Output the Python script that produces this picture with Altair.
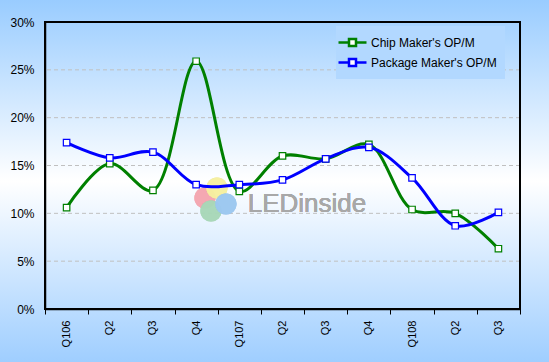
import altair as alt
import pandas as pd

quarters = ["Q106", "Q2", "Q3", "Q4", "Q107", "Q2", "Q3", "Q4", "Q108", "Q2", "Q3"]
chip = [10.6, 15.2, 12.4, 25.9, 12.3, 16.0, 15.7, 17.2, 10.4, 10.0, 6.3]
package = [17.4, 15.8, 16.4, 13.0, 13.0, 13.5, 15.7, 16.9, 13.7, 8.7, 10.1]
series_names = ["Chip Maker's OP/M", "Package Maker's OP/M"]
series_colors = ["#008000", "#0000FF"]
grid_values = [5, 10, 15, 20, 25]
y_ticks = [0, 5, 10, 15, 20, 25, 30]

keys = [f"{i:02d}|{q}" for i, q in enumerate(quarters)]
rows = []
for k, v in zip(keys, chip):
    rows.append({"key": k, "series": series_names[0], "value": v})
for k, v in zip(keys, package):
    rows.append({"key": k, "series": series_names[1], "value": v})
df = pd.DataFrame(rows)
grid_df = pd.DataFrame({"g": grid_values})

W, H = 475, 287
FONT = "Liberation Sans"

x_enc = alt.X(
    "key:O",
    sort=keys,
    scale=alt.Scale(paddingInner=0, paddingOuter=0),
    axis=alt.Axis(
        title=None,
        labelExpr="split(datum.value, '|')[1]",
        labelAngle=270,
        labelAlign="right",
        labelBaseline="middle",
        labelFont=FONT,
        labelFontSize=11,
        labelColor="black",
        labelPadding=6,
        labelOffset=0.01,
        tickBand="extent",
        tickSize=5,
        tickColor="black",
        domainColor="black",
        domainWidth=1.5,
        grid=False,
        zindex=1,
    ),
)
y_scale = alt.Scale(domain=[0, 30], nice=False)
y_axis = alt.Axis(
    title=None,
    values=y_ticks,
    labelExpr="datum.value + '%'",
    labelFont=FONT,
    labelFontSize=12,
    labelColor="black",
    labelPadding=11,
    tickSize=0,
    domainColor="black",
    domainWidth=1.5,
    grid=False,
    zindex=1,
)
y_enc = alt.Y("value:Q", scale=y_scale, axis=y_axis)
color_enc = alt.Color(
    "series:N",
    scale=alt.Scale(domain=series_names, range=series_colors),
    legend=alt.Legend(
        title=None,
        orient="none",
        legendX=291,
        legendY=4,
        symbolType="M-2,0H-0.5M0.5,0H2M-0.5,-0.5H0.5V0.5H-0.5Z",
        symbolSize=196,
        symbolStrokeWidth=2.5,
        symbolFillColor="white",
        labelFont=FONT,
        labelFontSize=12,
        labelColor="black",
        labelOffset=10,
        rowPadding=3,
        padding=8,
        fillColor="#B2D8FF",
    ),
)

bg = alt.Chart(grid_df).mark_rect(
    fill=alt.Gradient(
        gradient="linear",
        stops=[
            alt.GradientStop(color="#99CCFF", offset=0),
            alt.GradientStop(color="#FFFFFF", offset=0.5),
            alt.GradientStop(color="#9FCEFF", offset=1),
        ],
        x1=0, x2=0, y1=0, y2=1,
    )
).encode(
    x=alt.value(-45), x2=alt.value(W + 29), y=alt.value(-22), y2=alt.value(H + 53)
)

grid = alt.Chart(grid_df).mark_rule(
    color="#C0C0C0", strokeDash=[4, 3], strokeWidth=1
).encode(y=alt.Y("g:Q", scale=y_scale, axis=y_axis))

logo_colors = ["#F4A6B0", "#F6F0A0", "#A8D8B8", "#9CC8F0"]
logo = alt.layer(
    alt.Chart(grid_df).mark_circle(size=450, opacity=0.5, color=logo_colors[0]).encode(x=alt.value(160), y=alt.value(176)),
    alt.Chart(grid_df).mark_circle(size=450, opacity=0.5, color=logo_colors[1]).encode(x=alt.value(172), y=alt.value(166)),
    alt.Chart(grid_df).mark_circle(size=450, opacity=0.5, color=logo_colors[2]).encode(x=alt.value(166), y=alt.value(189)),
    alt.Chart(grid_df).mark_circle(size=450, opacity=0.5, color=logo_colors[3]).encode(x=alt.value(181), y=alt.value(182)),
    alt.Chart(grid_df).mark_text(
        text="LEDinside", font=FONT, fontSize=26, color="#A8A8A8", align="center", baseline="alphabetic"
    ).encode(x=alt.value(262), y=alt.value(190)),
)

border = alt.Chart(grid_df).mark_rect(
    fill="transparent", stroke="black", strokeWidth=1.5
).encode(x=alt.value(0), x2=alt.value(W), y=alt.value(0), y2=alt.value(H))

base = alt.Chart(df)
lines = base.mark_line(interpolate="catmull-rom", strokeWidth=3).encode(
    x=x_enc, y=y_enc, color=color_enc
)
points = base.mark_point(
    shape="square", filled=True, fill="white", size=42, strokeWidth=1.2, opacity=1
).encode(
    x=x_enc, y=y_enc,
    stroke=alt.Color("series:N", scale=alt.Scale(domain=series_names, range=series_colors), legend=None),
)

chart = alt.layer(bg, grid, logo, border, lines, points).properties(
    width=W,
    height=H,
    autosize=alt.AutoSizeParams(type="none"),
    padding={"left": 45, "top": 22, "right": 29, "bottom": 53},
    background="#CCE6FF",
).configure_view(stroke=None, fill=None)

chart.save("out.html", embed_options={"renderer": "svg", "actions": False})
